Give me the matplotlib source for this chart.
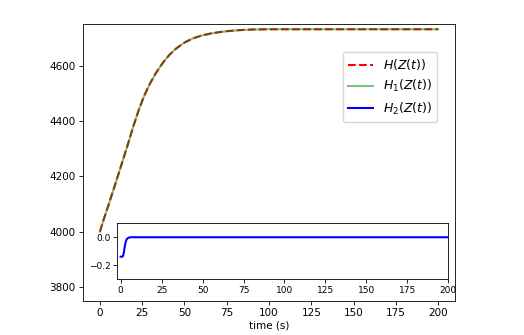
import matplotlib
matplotlib.use("Agg")
import matplotlib.pyplot as plt

# values
t_main = [0, 2, 5, 9, 12, 16, 20, 23, 26, 29, 33, 37, 41, 45, 50, 55,
          60, 65, 70, 75, 83, 90, 100, 120, 150, 175, 200]
H = [4000, 4040, 4095, 4170, 4228, 4305, 4385, 4440, 4488, 4528, 4572, 4608,
     4638, 4661, 4683, 4698, 4708, 4715, 4720, 4724, 4728, 4730, 4731, 4731,
     4731, 4731, 4731]
H1 = [4000, 4040, 4095, 4170, 4228, 4305, 4385, 4440, 4488, 4528, 4572, 4608,
      4638, 4661, 4683, 4698, 4708, 4715, 4720, 4724, 4728, 4730, 4731, 4731,
      4731, 4731, 4731]

t_h2 = [0, 1, 1.5, 2, 2.5, 3, 3.5, 4, 5, 6, 8, 50, 100, 150, 200]
H2 = [-0.14, -0.14, -0.135, -0.11, -0.07, -0.04, -0.02, -0.01, -0.003, 0.0,
      0.0, 0.0, 0.0, 0.0, 0.0]

main_xticks = [0, 25, 50, 75, 100, 125, 150, 175, 200]
main_yticks = [3800, 4000, 4200, 4400, 4600]
inset_yticks = [0.0, -0.2]

fig = plt.figure(figsize=(5.24, 3.35), dpi=100)
ax = fig.add_axes([0.1584, 0.1015, 0.7099, 0.8269])

ax.plot(t_main, H, "--", color="red", lw=1.5, label=r"$H(Z(t))$")
ax.plot(t_main, H1, "-", color="green", alpha=0.5, lw=1.5, label=r"$H_1(Z(t))$")
ax.plot([], [], "-", color="blue", lw=1.5, label=r"$H_2(Z(t))$")

ax.set_xlim(-10, 210)
ax.set_ylim(3750, 4750)
ax.set_xticks(main_xticks)
ax.set_yticks(main_yticks)
ax.set_xlabel("time (s)", fontsize=7.5, labelpad=2)
ax.tick_params(labelsize=7.5, length=2.6, width=0.6, pad=2.6)
for s in ax.spines.values():
    s.set_linewidth(0.6)

ax.legend(loc="upper right", bbox_to_anchor=(0.952, 0.899), borderaxespad=0,
          fontsize=9)

# inset with H2
axi = fig.add_axes([0.2239, 0.1672, 0.6317, 0.1662])
axi.plot(t_h2, H2, "-", color="blue", lw=1.5)
axi.set_xlim(-2, 200)
axi.set_ylim(-0.3, 0.1)
axi.set_xticks(main_xticks)
axi.set_yticks(inset_yticks)
axi.tick_params(labelsize=6.5, length=2.6, width=0.6, pad=2.2)
for s in axi.spines.values():
    s.set_linewidth(0.6)

fig.savefig("out.png", dpi=100)
